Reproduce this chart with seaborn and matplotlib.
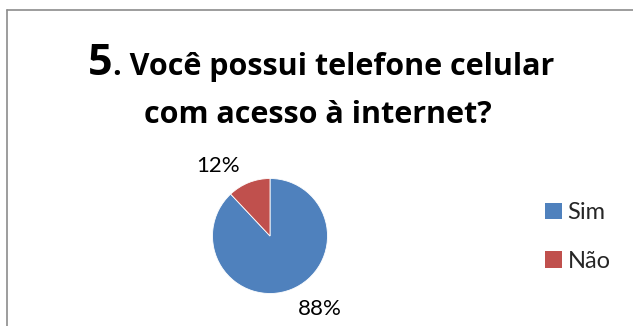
import matplotlib
matplotlib.use("Agg")
import matplotlib.pyplot as plt
import seaborn as sns
from matplotlib.patches import Patch
from matplotlib.lines import Line2D

categories = ["Sim", "Não"]
values = [88, 12]
pct_labels = ["88%", "12%"]
colors = ["#4F81BD", "#C0504D"]

sns.set_theme(style="white")
plt.rcParams['font.family'] = ['Lato', 'DejaVu Sans']

W, H = 633, 326
fig = plt.figure(figsize=(W / 100, H / 100), dpi=100)
fig.patch.set_facecolor("white")

# frame (cut off at right/bottom)
fig.add_artist(Line2D([6.5 / W, 6.5 / W], [0, 1 - 10 / H], transform=fig.transFigure, color="#8c8c8c", lw=1.2))
fig.add_artist(Line2D([6.5 / W, 1], [1 - 10 / H, 1 - 10 / H], transform=fig.transFigure, color="#8c8c8c", lw=1.2))

# title (two lines, big "5")
tfont = ['Open Sans', 'DejaVu Sans']
renderer = fig.canvas.get_renderer()
t5 = fig.text(0, 1 - 75 / H, "5", ha="left", va="baseline", fontsize=31, fontweight="bold",
              family=tfont, color="black")
t1 = fig.text(0, 1 - 75 / H, ". Você possui telefone celular", ha="left", va="baseline", fontsize=22,
              fontweight="bold", family=tfont, color="black")
w5 = t5.get_window_extent(renderer).width
w1 = t1.get_window_extent(renderer).width
x0 = 321 - (w5 + w1) / 2
t5.set_x(x0 / W)
t1.set_x((x0 + w5) / W)
fig.text(318 / W, 1 - 123 / H, "com acesso à internet?", ha="center", va="baseline", fontsize=22,
         fontweight="bold", family=tfont, color="black")

cx, cy, r = 270, 236, 57.5
ax = fig.add_axes([(cx - r) / W, (H - cy - r) / H, 2 * r / W, 2 * r / H])
wedges, _ = ax.pie(values, colors=colors, startangle=90, counterclock=False, radius=1,
                   wedgeprops=dict(linewidth=0.6, edgecolor="white"))
ax.set_xlim(-1, 1)
ax.set_ylim(-1, 1)
ax.set_aspect("equal")
ax.axis("off")

label_pos = {"88%": (0.87, -1.27), "12%": (-0.9, 1.22)}
for lab in pct_labels:
    x, y = label_pos[lab]
    ax.text(x, y, lab, ha="center", va="center", fontsize=16, color="black", clip_on=False)

handles = [Patch(facecolor=c, edgecolor="none") for c in colors]
fig.legend(handles, categories, loc="center left", bbox_to_anchor=(545 / W, 1 - 237 / H),
           frameon=False, fontsize=17, handlelength=0.7, handleheight=0.7,
           handletextpad=0.25, labelspacing=1.15, borderaxespad=0, borderpad=0)

fig.savefig("out.png", dpi=100, facecolor="white")
